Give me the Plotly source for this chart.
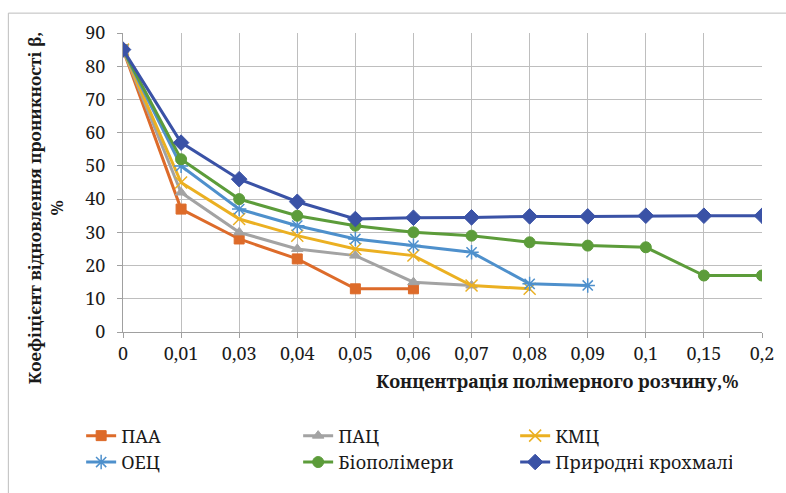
import plotly.graph_objects as go

categories = ["0", "0,01", "0,03", "0,04", "0,05", "0,06", "0,07", "0,08", "0,09", "0,1", "0,15", "0,2"]

paa = [85, 37, 28, 22, 13, 13]
pac = [85, 42, 30, 25, 23, 15, 14]
kmc = [85, 45, 34, 29, 25, 23, 14, 13]
oec = [85, 50, 37, 32, 28, 26, 24, 14.5, 14]
biopol = [85, 52, 40, 35, 32, 30, 29, 27, 26, 25.5, 17, 17]
kroh = [85, 57, 46, 39.2, 34, 34.4, 34.5, 34.8, 34.8, 35, 35, 35]

series = [
    ("ПАА", paa, "#DD6B2A", "square", 10, 1),
    ("ПАЦ", pac, "#A3A3A3", "triangle-up", 10, 1),
    ("КМЦ", kmc, "#EBB022", "x-thin-open", 12, 1.5),
    ("ОЕЦ", oec, "#4E90CC", "asterisk-open", 12, 1.5),
    ("Біополімери", biopol, "#5C9C3A", "circle", 11, 1),
    ("Природні крохмалі", kroh, "#3A52A6", "diamond", 12, 1),
]

FONT = "Noto Serif, DejaVu Serif"
TXT = "#1a1a1a"

fig = go.Figure()
for name, vals, color, sym, size, lw in series:
    fig.add_trace(go.Scatter(
        x=categories[:len(vals)], y=vals, name=name, mode="lines+markers",
        line=dict(color=color, width=3),
        marker=dict(symbol=sym, size=size, color=color, line=dict(color=color, width=lw)),
    ))

fig.update_layout(
    width=786, height=493,
    margin=dict(l=123, r=22, t=33, b=159),
    paper_bgcolor="white", plot_bgcolor="white",
    font=dict(family=FONT, size=18, color=TXT),
    showlegend=True,
    legend=dict(
        orientation="h", x=-0.0655, xanchor="left",
        y=(334 - 420) / 301, yanchor="top",
        entrywidth=172, entrywidthmode="pixels",
        font=dict(family=FONT, size=18, color=TXT),
        bgcolor="rgba(0,0,0,0)",
    ),
)

fig.update_xaxes(
    type="category", categoryorder="array", categoryarray=categories,
    range=[0, len(categories) - 1],
    showgrid=True, gridcolor="#BEBEBE", gridwidth=1,
    showline=True, linecolor="#A0A0A0", linewidth=1,
    ticks="outside", ticklen=5, tickcolor="#A0A0A0",
    tickfont=dict(family=FONT, size=18, color=TXT),
    zeroline=False,
)
fig.update_yaxes(
    range=[0, 90], dtick=10,
    showgrid=True, gridcolor="#BEBEBE", gridwidth=1,
    showline=True, linecolor="#A0A0A0", linewidth=1,
    ticks="outside", ticklen=5, tickcolor="#A0A0A0",
    ticklabelstandoff=8,
    tickfont=dict(family=FONT, size=18, color=TXT),
    zeroline=False,
)

fig.add_annotation(
    text="<b>Коефіцієнт відновлення проникності β,</b><br><b>%</b>",
    xref="paper", yref="paper", x=(46 - 123) / 641, y=0.415, xanchor="center", yanchor="middle",
    textangle=-90, showarrow=False,
    font=dict(family=FONT, size=17, color=TXT),
)
fig.add_annotation(
    text="<b>Концентрація полімерного розчину,%</b>",
    xref="paper", yref="paper", x=(558 - 123) / 641, y=(334 - 383) / 301,
    xanchor="center", yanchor="middle", showarrow=False,
    font=dict(family=FONT, size=18, color=TXT),
)

fig.add_shape(
    type="rect", xref="paper", yref="paper",
    x0=(8 - 123) / 641, x1=(800 - 123) / 641, y0=(334 - 510) / 301, y1=(334 - 13) / 301,
    line=dict(color="#BDBDBD", width=1), fillcolor="rgba(0,0,0,0)", layer="below",
)

fig.write_html("out.html", config={"displayModeBar": False},
               post_script="document.body.style.margin='0';")
